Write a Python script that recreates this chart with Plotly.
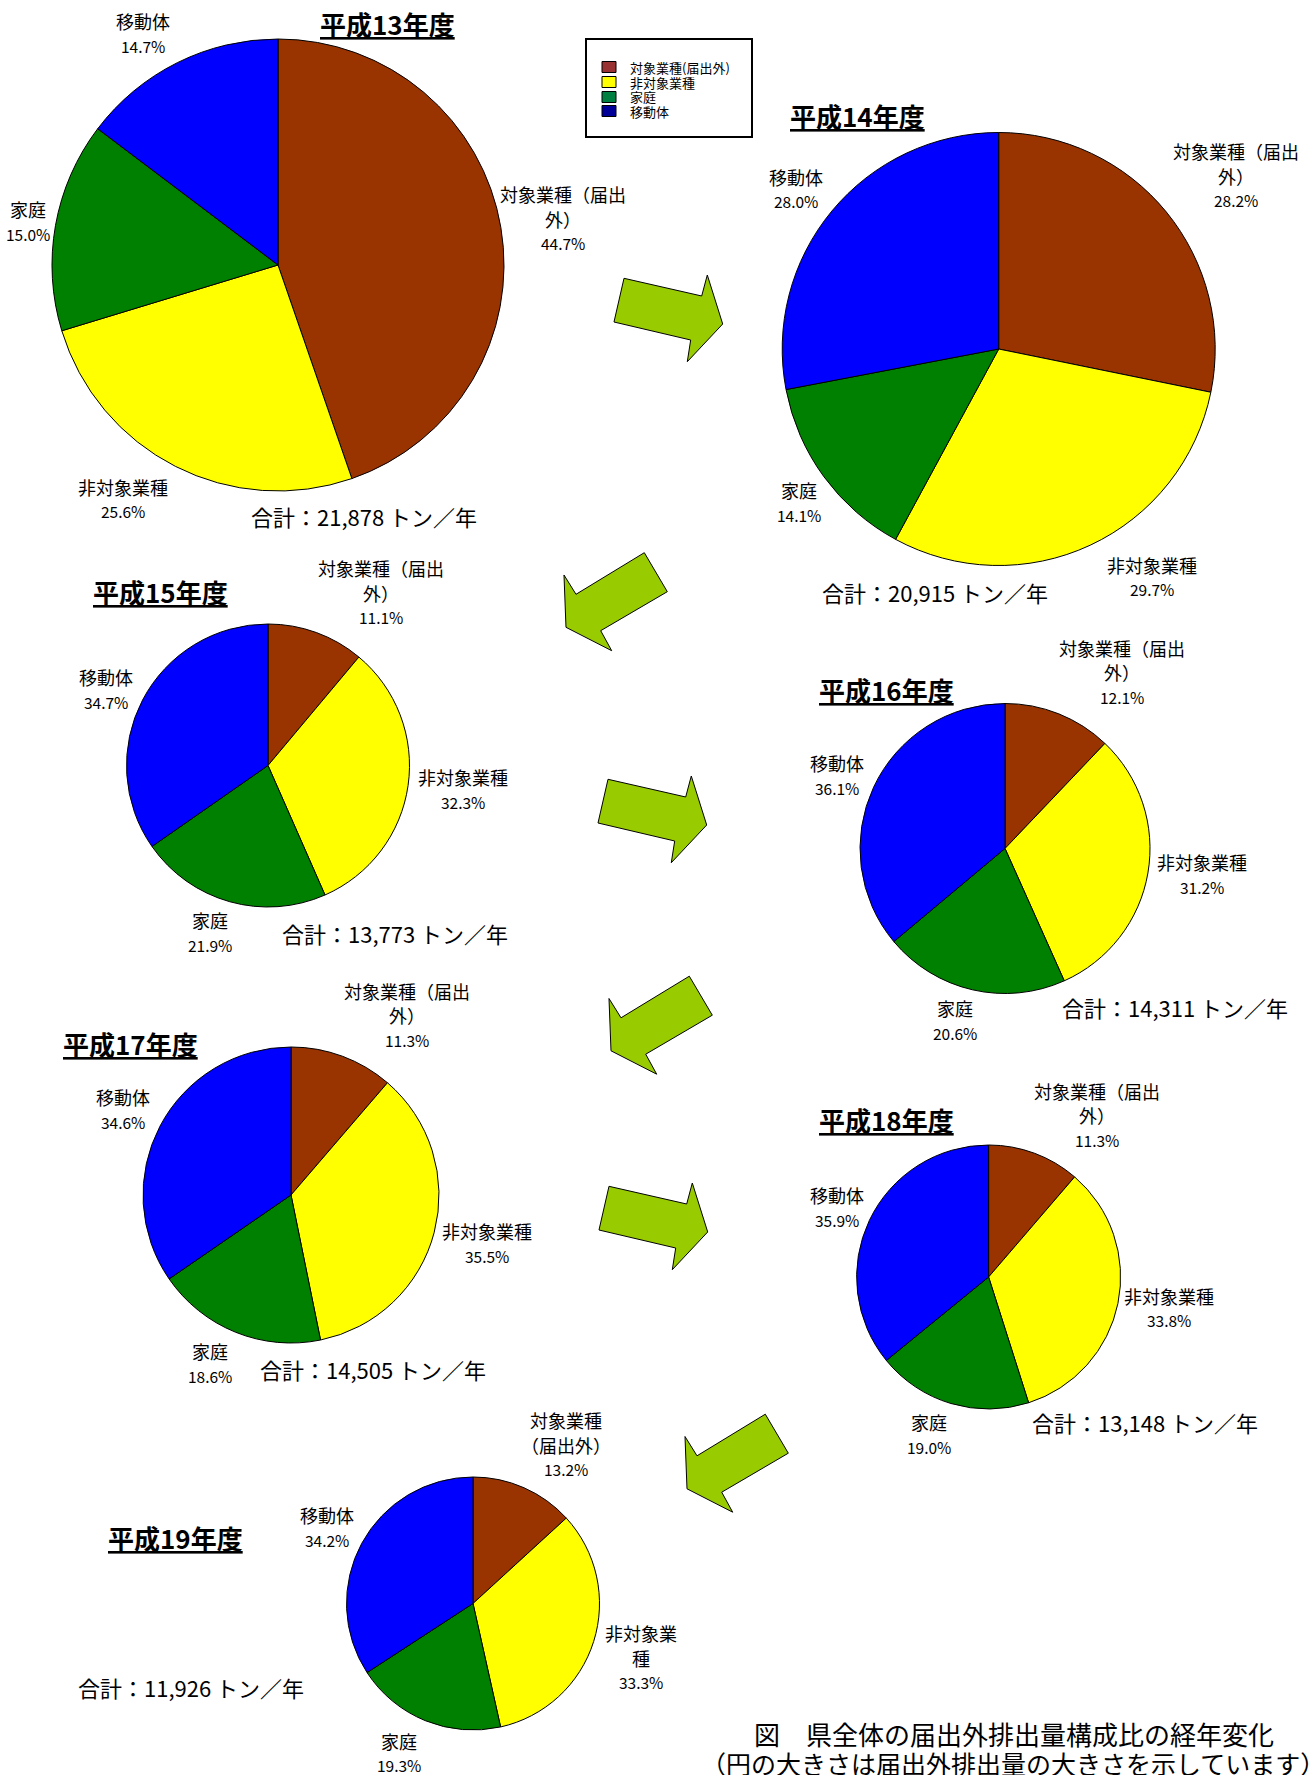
import plotly.graph_objects as go

W, H = 1309, 1775
FONT = "Noto Sans CJK JP"

# ---- data -------------------------------------------------------------
categories = ["対象業種（届出外）", "非対象業種", "家庭", "移動体"]
slice_colors = ["#993300", "#FFFF00", "#008000", "#0000FF"]
legend_colors = ["#993333", "#FFFF00", "#008040", "#000099"]

years = ["平成13年度", "平成14年度", "平成15年度", "平成16年度",
         "平成17年度", "平成18年度", "平成19年度"]

share_h13 = [44.7, 25.6, 15.0, 14.7]
share_h14 = [28.2, 29.7, 14.1, 28.0]
share_h15 = [11.1, 32.3, 21.9, 34.7]
share_h16 = [12.1, 31.2, 20.6, 36.1]
share_h17 = [11.3, 35.5, 18.6, 34.6]
share_h18 = [11.3, 33.8, 19.0, 35.9]
share_h19 = [13.2, 33.3, 19.3, 34.2]
shares = [share_h13, share_h14, share_h15, share_h16,
          share_h17, share_h18, share_h19]

totals = [21878, 20915, 13773, 14311, 14505, 13148, 11926]  # トン/年

caption_lines = ["図　県全体の届出外排出量構成比の経年変化",
                 "（円の大きさは届出外排出量の大きさを示しています）"]

# ---- layout (pixel positions) ----------------------------------------
pie_geom = [(278, 265, 226), (998.7, 349, 216.5), (268, 765.5, 141.5),
            (1005, 848.5, 145), (291, 1195, 148), (988.6, 1277, 132),
            (473, 1603.5, 126.5)]
title_pos = [(387, 23), (857, 115), (160, 592), (886, 690),
             (130, 1043), (886, 1119), (175, 1537)]
total_pos = [(364, 516), (935, 592), (395, 933), (1175, 1007),
             (373, 1369), (1145, 1422), (191, 1687)]
# first-line centre of each slice label, in category order
label_pos = [
    [(563, 194), (123, 487), (28, 209), (143, 21)],
    [(1236, 151), (1152, 565), (799, 490), (796, 177)],
    [(381, 568), (463, 777), (210, 920), (106, 677)],
    [(1122, 648), (1202, 862), (955, 1008), (837, 763)],
    [(406.5, 991), (487, 1231), (209.5, 1351), (123, 1097)],
    [(1097, 1090.5), (1169, 1295.5), (928.5, 1422), (837, 1195)],
    [(566, 1420), (641, 1633), (398.6, 1740.5), (327, 1515)],
]
# where slice names wrap onto a new line: {category index: split position}
default_wrap = {0: 7}
wrap_rules = [default_wrap] * 6 + [{0: 4, 1: 4}]
LINE_STEP = 24.5


def px(x):
    return x / W


def py(y):
    return 1 - y / H


fig = go.Figure()

for i, vals in enumerate(shares):
    cx, cy, r = pie_geom[i]
    fig.add_trace(go.Pie(
        labels=categories, values=vals, sort=False, direction="clockwise",
        rotation=0, textinfo="none", showlegend=False,
        marker=dict(colors=slice_colors, line=dict(color="black", width=1)),
        domain=dict(x=[px(cx - r), px(cx + r)], y=[py(cy + r), py(cy - r)]),
    ))

annotations = []


def add_text(x, y, text, size, anchor="center"):
    annotations.append(dict(
        x=px(x), y=py(y), xref="paper", yref="paper", text=text,
        showarrow=False, xanchor=anchor, yanchor="middle",
        font=dict(family=FONT, size=size, color="black"),
    ))


for i, vals in enumerate(shares):
    tx, ty = title_pos[i]
    add_text(tx, ty, f"<b><u>{years[i]}</u></b>", 26)
    sx, sy = total_pos[i]
    add_text(sx, sy, f"合計：{totals[i]:,} トン／年", 22)
    for k, name in enumerate(categories):
        cut = wrap_rules[i].get(k)
        lines = [name] if cut is None else [name[:cut], name[cut:]]
        lx, ly = label_pos[i][k]
        for j, line in enumerate(lines):
            add_text(lx, ly + j * LINE_STEP, line, 18)
        add_text(lx, ly + len(lines) * LINE_STEP, f"{vals[k]:.1f}%", 15.5)

# caption
add_text(1014, 1733, caption_lines[0], 26)
add_text(1013, 1763, caption_lines[1], 25)

shapes = []

# legend box
shapes.append(dict(type="rect", xref="paper", yref="paper",
                   x0=px(586), x1=px(752), y0=py(39), y1=py(137),
                   line=dict(color="black", width=2), fillcolor="white"))
legend_rows = [67, 82, 97, 111]
for k, name in enumerate(categories):
    yc = legend_rows[k]
    shapes.append(dict(type="rect", xref="paper", yref="paper",
                       x0=px(602), x1=px(616), y0=py(yc + 5.5), y1=py(yc - 5.5),
                       line=dict(color="black", width=1),
                       fillcolor=legend_colors[k]))
    add_text(628, yc, name.replace("（", "(").replace("）", ")"), 13,
             anchor="left")

# block arrows between the years
arrow_right = [(624, 278.3), (701.7, 296), (707.3, 275), (722.7, 324),
               (687.3, 361.7), (690.7, 340), (614, 322)]
arrow_left = [(644.3, 552.7), (667.3, 591.7), (600.7, 630.7), (611.7, 650.7),
              (566, 627.3), (564, 575), (576, 594.3)]
arrow_offsets = [(arrow_right, 0, 0), (arrow_left, 0, 0),
                 (arrow_right, -16, 501), (arrow_left, 45, 423.5),
                 (arrow_right, -15, 908), (arrow_left, 121, 861.5)]
for poly, dx, dy in arrow_offsets:
    pts = [f"{px(x + dx):.5f},{py(y + dy):.5f}" for x, y in poly]
    path = "M " + " L ".join(pts) + " Z"
    shapes.append(dict(type="path", xref="paper", yref="paper", path=path,
                       fillcolor="#99CC00", line=dict(color="black", width=1)))

fig.update_layout(
    width=W, height=H, autosize=False,
    margin=dict(l=0, r=0, t=0, b=0, pad=0),
    paper_bgcolor="white", plot_bgcolor="white",
    annotations=annotations, shapes=shapes,
    font=dict(family=FONT),
)

fig.write_html("out.html")
